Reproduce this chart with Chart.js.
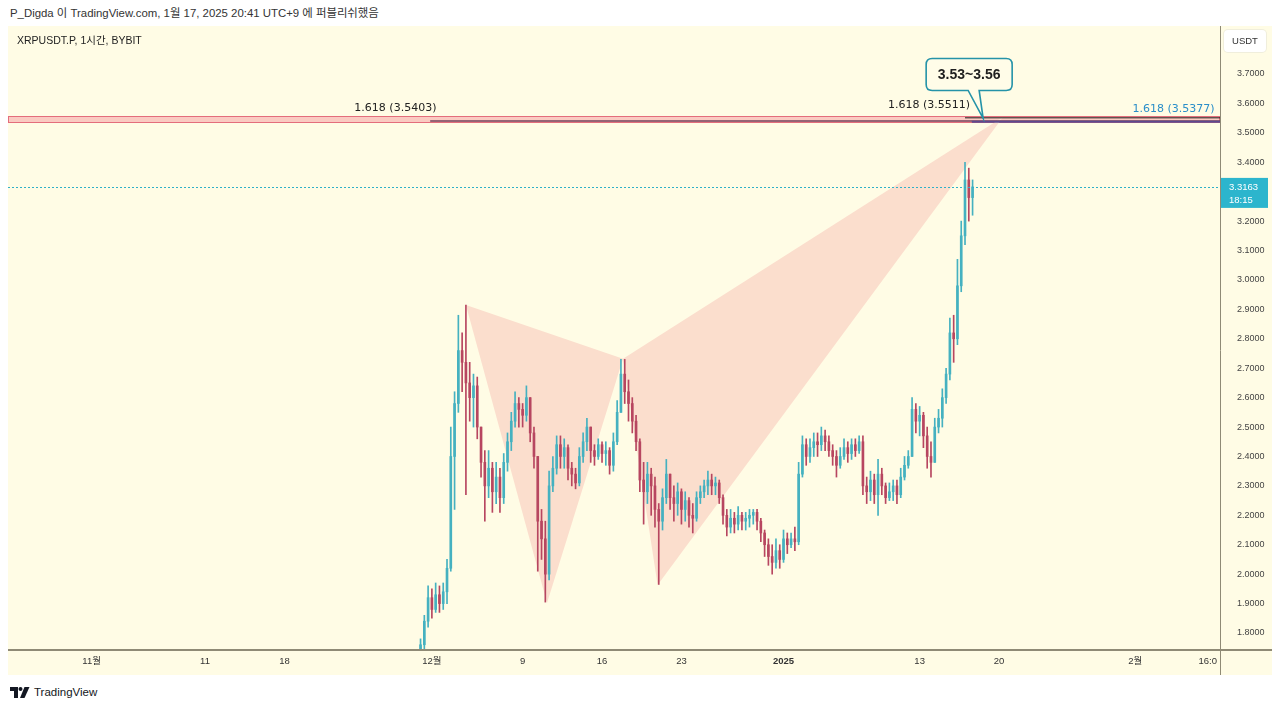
<!DOCTYPE html>
<html lang="ko">
<head>
<meta charset="UTF-8">
<title>XRPUSDT.P, 1시간, BYBIT</title>
<script src="https://cdn.jsdelivr.net/npm/chart.js"></script>
<style>
  body {
    margin: 0;
    width: 1280px;
    height: 709px;
    background: #fff;
    position: relative;
    overflow: hidden;
    font-family: 'Liberation Sans', 'Noto Sans CJK KR', sans-serif;
    color: #333;
  }
  #header { position: absolute; left: 10px; top: 6px; font-size: 11.4px; line-height: 14px; color: #333; }
  #panel { position: absolute; left: 8px; top: 26px; width: 1264px; height: 649px; background: #fffce5; }
  #wrap { position: absolute; left: 0; top: 0; width: 100%; height: 100%; }
  #symbol { position: absolute; left: 9px; top: 8px; font-size: 10.5px; line-height: 12px; color: #222; }
  #unit {
    position: absolute; right: 6px; top: 4px; width: 42px; height: 22px;
    background: #fff; border-radius: 4px; font-size: 9.5px; line-height: 22px;
    text-align: center; color: #333; box-shadow: 0 0 0 1px #f0eedc;
  }
  #footer { position: absolute; left: 10px; top: 685px; font-size: 11.5px; line-height: 14px; color: #131722; display: flex; align-items: center; }
  #footer svg { margin-right: 4px; }
</style>
</head>
<body>
<div id="header">P_Digda 이 TradingView.com, 1월 17, 2025 20:41 UTC+9 에 퍼블리쉬했음</div>
<div id="panel">
  <div id="wrap"><canvas id="chart"></canvas></div>
  <div id="symbol">XRPUSDT.P, 1시간, BYBIT</div>
  <div id="unit">USDT</div>
</div>
<div id="footer">
  <svg width="20" height="11" viewBox="0 0 20 11"><path d="M0 0h8v11h-4v-7h-4z" fill="#131722"/><circle cx="10.5" cy="2" r="2" fill="#131722"/><path d="M14.5 0h5l-5 11h-4.5z" fill="#131722"/></svg>
  <span>TradingView</span>
</div>

<script>
// x axis is in days since 1 Nov 2024 (00:00), one candle = 8 hours
const firstCandleDay = 29;          // 30 Nov 2024
const firstOpen = 1.72;

const closes = [
  1.76, 1.84, 1.92, 1.88, 1.93, 1.90, 1.94, 2.02, 2.40, 2.58,
  2.76, 2.72, 2.65, 2.60, 2.64, 2.50, 2.38, 2.30, 2.36, 2.28,
  2.33, 2.26, 2.38, 2.45, 2.52, 2.58, 2.56, 2.54, 2.60, 2.48,
  2.40, 2.18, 2.12, 2.00, 2.30, 2.36, 2.44, 2.40, 2.43, 2.36,
  2.34, 2.31, 2.40, 2.45, 2.50, 2.42, 2.40, 2.44, 2.41, 2.42,
  2.37, 2.45, 2.55, 2.68, 2.62, 2.58, 2.52, 2.45, 2.32, 2.28,
  2.34, 2.30, 2.22, 2.18, 2.26, 2.34, 2.26, 2.24, 2.28, 2.22,
  2.25, 2.20, 2.19, 2.26, 2.28, 2.30, 2.32, 2.30, 2.31, 2.26,
  2.20, 2.16, 2.19, 2.17, 2.20, 2.18, 2.19, 2.20, 2.21, 2.18,
  2.14, 2.10, 2.06, 2.04, 2.08, 2.05, 2.12, 2.10, 2.12, 2.11,
  2.34, 2.44, 2.40, 2.43, 2.45, 2.44, 2.47, 2.45, 2.42, 2.40,
  2.37, 2.40, 2.43, 2.41, 2.44, 2.42, 2.45, 2.30, 2.28, 2.32,
  2.27, 2.34, 2.30, 2.26, 2.28, 2.30, 2.27, 2.33, 2.37, 2.40,
  2.56, 2.52, 2.54, 2.47, 2.40, 2.38, 2.50, 2.53, 2.60, 2.68,
  2.82, 2.80, 2.98, 3.15, 3.34, 3.28, 3.3163
];
const highs = [
  1.78, 1.86, 1.96, 1.95, 1.97, 1.96, 1.97, 2.05, 2.50, 2.62,
  2.88, 2.82, 2.915, 2.72, 2.68, 2.67, 2.50, 2.42, 2.42, 2.38,
  2.38, 2.36, 2.41, 2.48, 2.55, 2.62, 2.60, 2.58, 2.64, 2.60,
  2.50, 2.40, 2.22, 2.18, 2.35, 2.40, 2.47, 2.47, 2.46, 2.44,
  2.38, 2.36, 2.43, 2.48, 2.53, 2.50, 2.44, 2.46, 2.45, 2.45,
  2.43, 2.48, 2.59, 2.73, 2.73, 2.66, 2.60, 2.54, 2.46, 2.38,
  2.38, 2.36, 2.33, 2.24, 2.29, 2.39, 2.34, 2.30, 2.31, 2.29,
  2.28, 2.26, 2.24, 2.28, 2.30, 2.32, 2.35, 2.34, 2.33, 2.32,
  2.27, 2.22, 2.22, 2.21, 2.23, 2.21, 2.21, 2.22, 2.22, 2.22,
  2.19, 2.15, 2.12, 2.10, 2.12, 2.10, 2.15, 2.14, 2.14, 2.16,
  2.38, 2.47, 2.46, 2.46, 2.48, 2.48, 2.50, 2.49, 2.47, 2.44,
  2.42, 2.43, 2.46, 2.45, 2.46, 2.46, 2.47, 2.47, 2.33, 2.35,
  2.34, 2.39, 2.36, 2.31, 2.31, 2.32, 2.32, 2.36, 2.40, 2.42,
  2.60, 2.58, 2.57, 2.55, 2.50, 2.45, 2.53, 2.56, 2.63, 2.70,
  2.87, 2.88, 3.07, 3.20, 3.40, 3.38, 3.34
];
const lows = [
  1.70, 1.74, 1.82, 1.85, 1.87, 1.87, 1.88, 1.90, 2.01, 2.22,
  2.55, 2.62, 2.27, 2.52, 2.50, 2.46, 2.33, 2.18, 2.26, 2.21,
  2.24, 2.21, 2.24, 2.35, 2.42, 2.50, 2.50, 2.50, 2.52, 2.45,
  2.36, 2.01, 2.05, 1.905, 1.98, 2.28, 2.34, 2.36, 2.36, 2.32,
  2.30, 2.29, 2.30, 2.38, 2.42, 2.38, 2.37, 2.39, 2.38, 2.37,
  2.34, 2.35, 2.44, 2.55, 2.58, 2.52, 2.48, 2.42, 2.28, 2.17,
  2.24, 2.20, 2.16, 1.965, 2.15, 2.24, 2.22, 2.18, 2.20, 2.17,
  2.18, 2.16, 2.14, 2.18, 2.24, 2.26, 2.27, 2.27, 2.27, 2.24,
  2.17, 2.13, 2.14, 2.14, 2.15, 2.15, 2.15, 2.16, 2.17, 2.15,
  2.11, 2.06, 2.03, 2.00, 2.02, 2.02, 2.04, 2.07, 2.09, 2.08,
  2.10, 2.33, 2.37, 2.38, 2.40, 2.40, 2.42, 2.42, 2.40, 2.37,
  2.33, 2.36, 2.39, 2.38, 2.39, 2.40, 2.41, 2.27, 2.24, 2.25,
  2.24, 2.20, 2.27, 2.24, 2.25, 2.25, 2.24, 2.26, 2.32, 2.36,
  2.40, 2.48, 2.47, 2.43, 2.36, 2.33, 2.38, 2.48, 2.50, 2.58,
  2.66, 2.72, 2.78, 2.96, 3.12, 3.20, 3.22
];

// harmonic pattern X, A, B, C, D
const patternDays = [33.0, 40.15, 46.85, 49.9, 80.35];
const patternPrices = [2.915, 1.902, 2.732, 1.963, 3.554];

// 1.618 levels
const fibPrices = [3.5403, 3.5511, 3.5377];
const fibStartDays = [29.85, 77.0, 77.6];
const fibLabelDays = [30.4, 77.45, 99.0];
const fibLabels = ['1.618 (3.5403)', '1.618 (3.5511)', '1.618 (3.5377)'];
const zoneRange = [3.537, 3.557];

const calloutText = '3.53~3.56';
const calloutTip = [78.6, 3.549];

const yTickValues = [1.8, 1.9, 2.0, 2.1, 2.2, 2.3, 2.4, 2.5, 2.6, 2.7, 2.8, 2.9, 3.0, 3.1, 3.2, 3.3, 3.4, 3.5, 3.6, 3.7];
const xTickDays = [0, 10, 17, 30, 38, 45, 52, 61, 73, 80, 92, 98.4];
const xTickLabels = ['11월', '11', '18', '12월', '9', '16', '23', '2025', '13', '20', '2월', '16:0'];
const lastTimeLabel = '18:15';

const UP = '#45b1c0', DOWN = '#b74660';
const FONT = "'Liberation Sans', 'Noto Sans CJK KR', sans-serif";

const opens = closes.map((c, i) => i === 0 ? firstOpen : closes[i - 1]);
const times = closes.map((c, i) => firstCandleDay + i / 3);
const colors = closes.map((c, i) => c >= opens[i] ? UP : DOWN);

const overlay = {
  id: 'overlay',
  beforeDatasetsDraw(chart) {
    const {ctx, chartArea: a, scales: {x, y}} = chart;
    ctx.save();
    ctx.beginPath();
    ctx.rect(a.left, a.top, a.width, a.height);
    ctx.clip();
    // target zone
    const zt = y.getPixelForValue(zoneRange[1]), zb = y.getPixelForValue(zoneRange[0]);
    ctx.fillStyle = 'rgba(240,110,125,0.35)';
    ctx.fillRect(a.left, zt, a.width, zb - zt);
    ctx.strokeStyle = '#e46d7b';
    ctx.lineWidth = 1;
    ctx.strokeRect(a.left + 0.5, Math.round(zt) + 0.5, a.width - 1, Math.round(zb - zt));
    // pattern triangles
    ctx.fillStyle = '#fbdecd';
    [[0, 1, 2], [2, 3, 4]].forEach(tri => {
      ctx.beginPath();
      tri.forEach((k, j) => {
        const px = x.getPixelForValue(patternDays[k]), py = y.getPixelForValue(patternPrices[k]);
        j ? ctx.lineTo(px, py) : ctx.moveTo(px, py);
      });
      ctx.closePath();
      ctx.fill();
    });
    ctx.restore();
  },
  afterDatasetsDraw(chart) {
    const {ctx, chartArea: a, scales: {x, y}} = chart;
    ctx.save();
    // last price dotted line
    const lp = y.getPixelForValue(closes[closes.length - 1]);
    ctx.strokeStyle = '#2fb0c8';
    ctx.lineWidth = 1;
    ctx.setLineDash([2, 2]);
    ctx.beginPath();
    ctx.moveTo(a.left, Math.round(lp) + 0.5);
    ctx.lineTo(a.right, Math.round(lp) + 0.5);
    ctx.stroke();
    ctx.setLineDash([]);

    // 1.618 lines
    const lineColors = ['#74405a', '#1e1e1e', '#5c4a8e'];
    const lineWidths = [1.5, 1, 2];
    const textColors = ['#222', '#222', '#2a8ec9'];
    fibPrices.forEach((p, i) => {
      const py = y.getPixelForValue(p);
      ctx.strokeStyle = lineColors[i];
      ctx.lineWidth = lineWidths[i];
      ctx.beginPath();
      ctx.moveTo(x.getPixelForValue(fibStartDays[i]), py);
      ctx.lineTo(a.right, py);
      ctx.stroke();
      ctx.fillStyle = textColors[i];
      ctx.font = "11px 'DejaVu Sans', sans-serif";
      ctx.textAlign = 'right';
      ctx.textBaseline = 'middle';
      ctx.fillText(fibLabels[i], x.getPixelForValue(fibLabelDays[i]), py - 12.5);
    });

    // callout
    const tx = x.getPixelForValue(calloutTip[0]), ty = y.getPixelForValue(calloutTip[1]);
    const bl = tx - 57, br = tx + 29, bt = ty - 60, bb = ty - 28, r = 6;
    ctx.beginPath();
    ctx.moveTo(bl + r, bt);
    ctx.lineTo(br - r, bt);
    ctx.quadraticCurveTo(br, bt, br, bt + r);
    ctx.lineTo(br, bb - r);
    ctx.quadraticCurveTo(br, bb, br - r, bb);
    ctx.lineTo(tx - 4, bb);
    ctx.lineTo(tx, ty);
    ctx.lineTo(tx - 15, bb);
    ctx.lineTo(bl + r, bb);
    ctx.quadraticCurveTo(bl, bb, bl, bb - r);
    ctx.lineTo(bl, bt + r);
    ctx.quadraticCurveTo(bl, bt, bl + r, bt);
    ctx.closePath();
    ctx.fillStyle = '#fffce8';
    ctx.fill();
    ctx.strokeStyle = '#2593a8';
    ctx.lineWidth = 1.6;
    ctx.stroke();
    ctx.fillStyle = '#1f1f1f';
    ctx.font = 'bold 14px ' + FONT;
    ctx.textAlign = 'center';
    ctx.textBaseline = 'middle';
    ctx.fillText(calloutText, (bl + br) / 2, (bt + bb) / 2 + 1);
    ctx.restore();
  },
  afterDraw(chart) {
    const {ctx, chartArea: a, scales: {y}, width, height} = chart;
    ctx.save();
    ctx.strokeStyle = '#8f8a75';
    ctx.lineWidth = 1;
    ctx.beginPath();
    ctx.moveTo(a.right + 0.5, 0);
    ctx.lineTo(a.right + 0.5, height);
    ctx.stroke();
    ctx.lineWidth = 2;
    ctx.beginPath();
    ctx.moveTo(0, a.bottom + 1);
    ctx.lineTo(width, a.bottom + 1);
    ctx.stroke();
    // last price label
    const lp = y.getPixelForValue(closes[closes.length - 1]);
    ctx.fillStyle = '#2cb5cd';
    ctx.fillRect(a.right + 1, lp - 9, 47, 30);
    ctx.fillStyle = '#ffffff';
    ctx.font = '9.5px ' + FONT;
    ctx.textAlign = 'left';
    ctx.textBaseline = 'middle';
    ctx.fillText(closes[closes.length - 1].toFixed(4), a.right + 9, lp);
    ctx.fillText(lastTimeLabel, a.right + 9, lp + 13);
    ctx.restore();
  }
};

new Chart(document.getElementById('chart'), {
  type: 'bar',
  data: {
    datasets: [
      {
        label: 'body',
        data: times.map((t, i) => ({x: t, y: [opens[i], closes[i]]})),
        backgroundColor: colors,
        barThickness: 2,
        minBarLength: 1,
        grouped: false,
        order: 1
      },
      {
        label: 'wick',
        data: times.map((t, i) => ({x: t, y: [lows[i], highs[i]]})),
        backgroundColor: colors,
        barThickness: 1,
        grouped: false,
        order: 2
      }
    ]
  },
  options: {
    responsive: true,
    maintainAspectRatio: false,
    animation: false,
    layout: {padding: 0},
    plugins: {legend: {display: false}, tooltip: {enabled: false}},
    scales: {
      x: {
        type: 'linear',
        min: -7.37,
        max: 99.48,
        offset: false,
        grid: {display: false, drawTicks: false},
        border: {display: false},
        afterBuildTicks: s => { s.ticks = xTickDays.map(v => ({value: v})); },
        afterFit: s => { s.height = 26; s.paddingLeft = 0; s.paddingRight = 0; },
        ticks: {
          autoSkip: false,
          maxRotation: 0,
          padding: 7,
          color: '#333',
          font: c => ({family: FONT, size: 9.5, weight: c.tick && c.tick.label === '2025' ? 'bold' : 'normal'}),
          callback: (v, i) => xTickLabels[i]
        }
      },
      y: {
        position: 'right',
        min: 1.7456,
        max: 3.8632,
        grid: {display: false, drawTicks: false},
        border: {display: false},
        afterBuildTicks: s => { s.ticks = yTickValues.map(v => ({value: v})); },
        afterFit: s => { s.width = 52; s.paddingTop = 0; s.paddingBottom = 0; },
        ticks: {
          padding: 17,
          color: '#444',
          font: {family: FONT, size: 9},
          callback: v => Number(v).toFixed(4)
        }
      }
    }
  },
  plugins: [overlay]
});
</script>
</body>
</html>
